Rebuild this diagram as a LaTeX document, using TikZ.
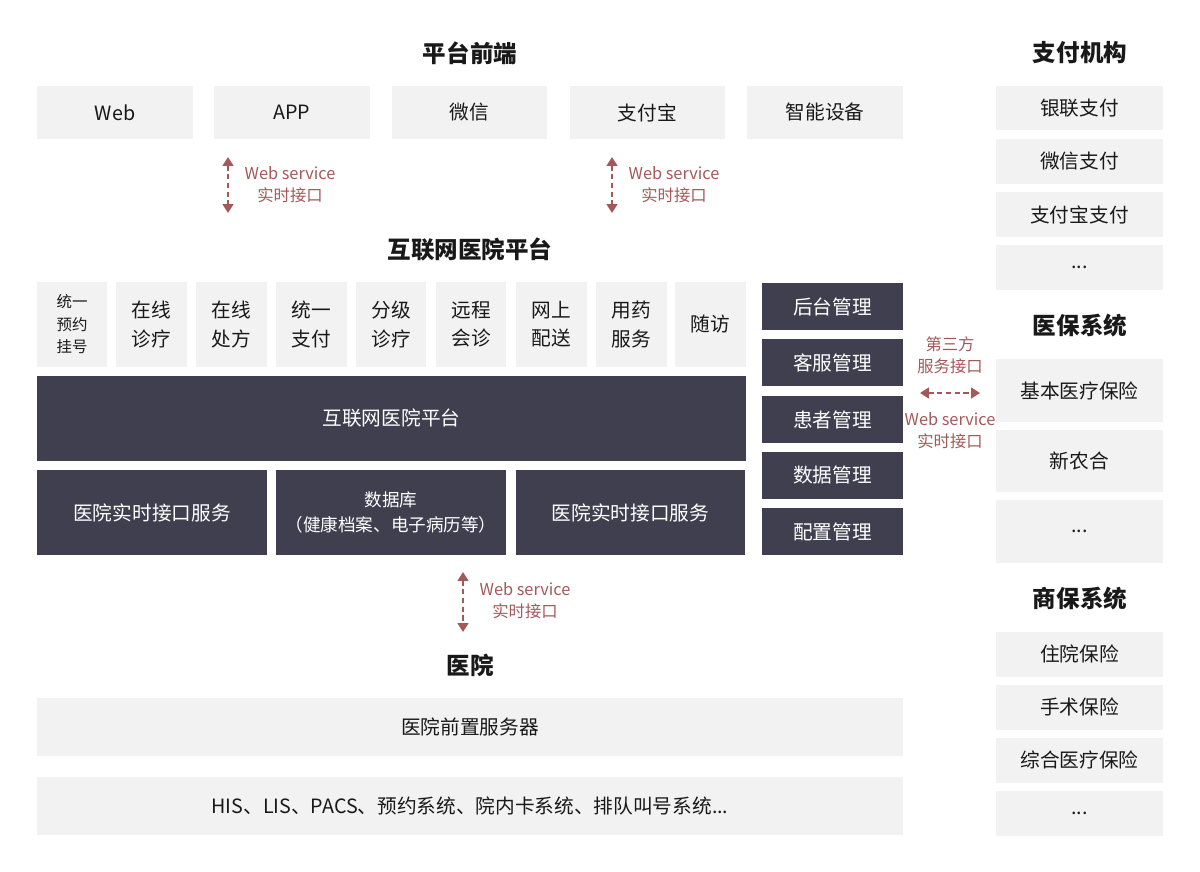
\documentclass[tikz,border=0pt]{standalone}
\usepackage{fontspec}
\newfontfamily\cjk{Noto Sans CJK SC}
\definecolor{clair}{RGB}{242,242,242}
\definecolor{fonce}{RGB}{64,63,80}
\definecolor{rouille}{RGB}{165,88,90}
\definecolor{encre}{RGB}{25,25,25}
\usetikzlibrary{arrows.meta}

\begin{document}
\begin{tikzpicture}[x=0.02cm,y=-0.02cm,font=\cjk\fontsize{11.2}{16}\selectfont,
	boite/.style={fill=clair,text=encre,inner sep=0pt,align=center},
	sombre/.style={fill=fonce,text=white,inner sep=0pt,align=center},
	titre/.style={text=encre,font=\cjk\bfseries\fontsize{13.4}{15}\selectfont},
	lien/.style={rouille,densely dashed,line width=1.2pt,{Triangle[width=6pt,length=5pt]}-{Triangle[width=6pt,length=5pt]}},
	note/.style={rouille,align=center,font=\cjk\fontsize{9.3}{12.5}\selectfont}]
	\useasboundingbox (0,0) rectangle (1200,872);
	% plateforme
	\node[titre] (tFront) at (470,53) {平台前端};
	\node[boite,minimum width=3.12cm,minimum height=1.06cm] (web) at (115,112.5) {Web};
	\node[boite,minimum width=3.12cm,minimum height=1.06cm] (app) at (292,112.5) {APP};
	\node[boite,minimum width=3.12cm,minimum height=1.06cm] (wx) at (469.5,112.5) {微信};
	\node[boite,minimum width=3.12cm,minimum height=1.06cm] (zfb) at (647.5,112.5) {支付宝};
	\node[boite,minimum width=3.12cm,minimum height=1.06cm] (smart) at (825,112.5) {智能设备};
	\coordinate (a1h) at (228,157); \coordinate (a1b) at (228,213);
	\draw[lien] (a1h) -- (a1b);
	\node[note] (n1) at (290,185) {Web service\\实时接口};
	\coordinate (a2h) at (612,157); \coordinate (a2b) at (612,213);
	\draw[lien] (a2h) -- (a2b);
	\node[note] (n2) at (674,185) {Web service\\实时接口};
	% hopital internet
	\node[titre] (tPlat) at (470,249) {互联网医院平台};
	\node[boite,minimum width=1.42cm,minimum height=1.7cm,font=\cjk\fontsize{8.8}{12.8}\selectfont] (m1) at (72,324.5) {统一\\预约\\挂号};
	\node[boite,minimum width=1.42cm,minimum height=1.7cm] (m2) at (151.5,324.5) {在线\\诊疗};
	\node[boite,minimum width=1.42cm,minimum height=1.7cm] (m3) at (231.5,324.5) {在线\\处方};
	\node[boite,minimum width=1.42cm,minimum height=1.7cm] (m4) at (311.5,324.5) {统一\\支付};
	\node[boite,minimum width=1.42cm,minimum height=1.7cm] (m5) at (391,324.5) {分级\\诊疗};
	\node[boite,minimum width=1.42cm,minimum height=1.7cm] (m6) at (471,324.5) {远程\\会诊};
	\node[boite,minimum width=1.42cm,minimum height=1.7cm] (m7) at (551,324.5) {网上\\配送};
	\node[boite,minimum width=1.42cm,minimum height=1.7cm] (m8) at (631,324.5) {用药\\服务};
	\node[boite,minimum width=1.42cm,minimum height=1.7cm] (m9) at (710.5,324.5) {随访};
	\node[sombre,minimum width=14.18cm,minimum height=1.7cm] (plat) at (391.5,418.5) {互联网医院平台};
	\node[sombre,minimum width=4.6cm,minimum height=1.7cm] (srv1) at (152,512.5) {医院实时接口服务};
	\node[sombre,minimum width=4.6cm,minimum height=1.7cm,font=\cjk\fontsize{10}{14.2}\selectfont] (db) at (391,512.5) {数据库\\（健康档案、电子病历等）};
	\node[sombre,minimum width=4.6cm,minimum height=1.7cm] (srv2) at (630.5,512.5) {医院实时接口服务};
	\node[sombre,minimum width=2.82cm,minimum height=0.94cm] (g1) at (832.5,306.5) {后台管理};
	\node[sombre,minimum width=2.82cm,minimum height=0.94cm] (g2) at (832.5,362.5) {客服管理};
	\node[sombre,minimum width=2.82cm,minimum height=0.94cm] (g3) at (832.5,419.5) {患者管理};
	\node[sombre,minimum width=2.82cm,minimum height=0.94cm] (g4) at (832.5,475.5) {数据管理};
	\node[sombre,minimum width=2.82cm,minimum height=0.94cm] (g5) at (832.5,531.5) {配置管理};
	\coordinate (a3g) at (920,393); \coordinate (a3d) at (980,393);
	\draw[lien] (a3g) -- (a3d);
	\node[note] (n3) at (950,355) {第三方\\服务接口};
	\node[note] (n4) at (950,431) {Web service\\实时接口};
	\coordinate (a4h) at (463,572); \coordinate (a4b) at (463,632);
	\draw[lien] (a4h) -- (a4b);
	\node[note] (n5) at (525,601) {Web service\\实时接口};
	% hopital
	\node[titre] (tHop) at (470,665) {医院};
	\node[boite,minimum width=17.32cm,minimum height=1.16cm] (front) at (470,727) {医院前置服务器};
	\node[boite,minimum width=17.32cm,minimum height=1.16cm] (his) at (470,806) {HIS、LIS、PACS、预约系统、院内卡系统、排队叫号系统...};
	% colonne de droite
	\node[titre] (tPay) at (1080,53) {支付机构};
	\node[boite,minimum width=3.34cm,minimum height=0.9cm] (p1) at (1079.5,108) {银联支付};
	\node[boite,minimum width=3.34cm,minimum height=0.9cm] (p2) at (1079.5,161.5) {微信支付};
	\node[boite,minimum width=3.34cm,minimum height=0.9cm] (p3) at (1079.5,214.5) {支付宝支付};
	\node[boite,minimum width=3.34cm,minimum height=0.9cm] (p4) at (1079.5,267.5) {...};
	\node[titre] (tMed) at (1080,326) {医保系统};
	\node[boite,minimum width=3.34cm,minimum height=1.26cm] (y1) at (1079.5,390.5) {基本医疗保险};
	\node[boite,minimum width=3.34cm,minimum height=1.26cm] (y2) at (1079.5,461) {新农合};
	\node[boite,minimum width=3.34cm,minimum height=1.26cm] (y3) at (1079.5,531.5) {...};
	\node[titre] (tCom) at (1080,599) {商保系统};
	\node[boite,minimum width=3.34cm,minimum height=0.9cm] (s1) at (1079.5,654) {住院保险};
	\node[boite,minimum width=3.34cm,minimum height=0.9cm] (s2) at (1079.5,707) {手术保险};
	\node[boite,minimum width=3.34cm,minimum height=0.9cm] (s3) at (1079.5,760) {综合医疗保险};
	\node[boite,minimum width=3.34cm,minimum height=0.9cm] (s4) at (1079.5,813) {...};
\end{tikzpicture}
\end{document}
